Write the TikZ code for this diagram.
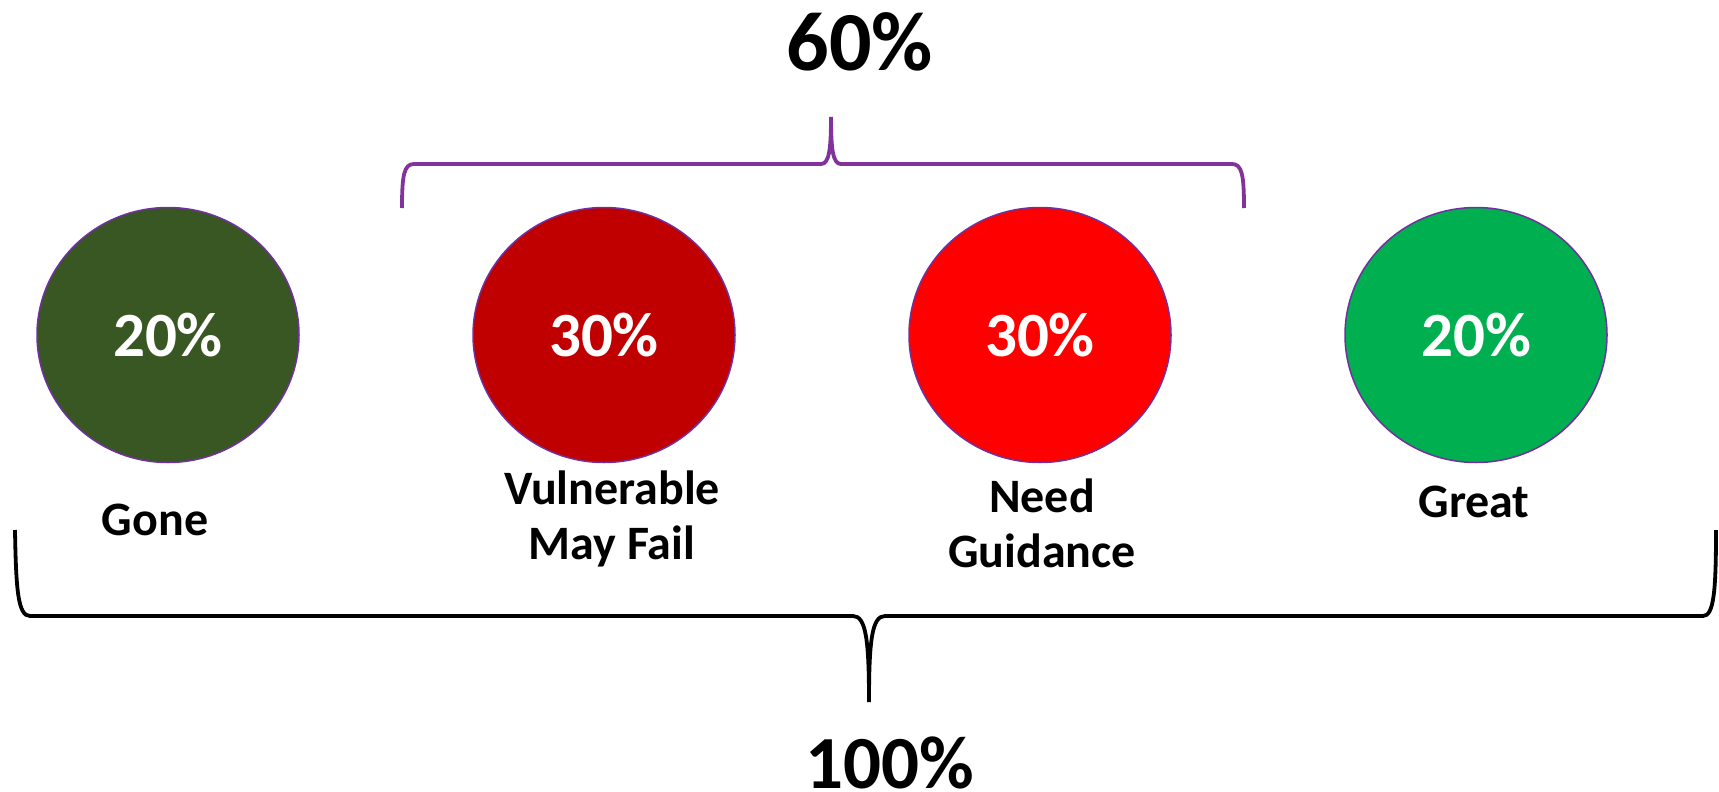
\documentclass[tikz,border=0pt]{standalone}
\usepackage{fontspec}
\setmainfont{Carlito}
\usetikzlibrary{shapes.geometric}
\definecolor{gonec}{RGB}{56,87,35}
\definecolor{vulnc}{RGB}{192,0,0}
\definecolor{needc}{RGB}{255,0,0}
\definecolor{greatc}{RGB}{0,176,80}
\definecolor{rimc}{RGB}{112,48,160}
\definecolor{bracec}{RGB}{130,50,155}
\tikzset{
  blob/.style={ellipse, draw=rimc, line width=1.5pt, minimum width=262pt, minimum height=255pt, inner sep=0pt, text=white, font=\fontsize{63}{70}\selectfont\bfseries},
  lbl/.style={align=center, font=\fontsize{48}{55}\selectfont\bfseries, inner sep=0pt},
  big/.style={font=\fontsize{84}{90}\selectfont\bfseries, inner sep=0pt},
  bigb/.style={font=\fontsize{75}{80}\selectfont\bfseries, inner sep=0pt},
  bracket/.style={line width=3.8pt},
}
\begin{document}
\begin{tikzpicture}[x=1pt,y=-1pt]
\useasboundingbox (0,0) rectangle (1719,792);
\node[blob, fill=gonec] (gone) at (168,335) {20\%};
\node[blob, fill=vulnc] (vuln) at (604,335) {30\%};
\node[blob, fill=needc] (need) at (1040,335) {30\%};
\node[blob, fill=greatc] (great) at (1476,335) {20\%};
\node[lbl, anchor=base] (gonel) at (155,535) {Gone};
\node[lbl] (vulnl) at (612,519) {Vulnerable\\May Fail};
\node[lbl] (needl) at (1042,523) {Need\\Guidance};
\node[lbl, anchor=base] (greatl) at (1474,517) {Great};
\node[big] (sixty) at (860,42) {60\%};
\node[bigb, anchor=base] (hundred) at (890,788) {100\%};
\draw[bracec, bracket] (402,208) .. controls (402,175) and (404,164) .. (414,164) -- (821,164) .. controls (829,164) and (831,150) .. (831,117) .. controls (831,150) and (833,164) .. (841,164) -- (1232,164) .. controls (1242,164) and (1244,175) .. (1244,208);
\draw[black, bracket] (15,530) .. controls (16,590) and (18,616) .. (30,616) -- (853,616) .. controls (866,616) and (869,640) .. (869,702) .. controls (869,640) and (872,616) .. (885,616) -- (1703,616) .. controls (1714,616) and (1716,590) .. (1716,530);
\end{tikzpicture}
\end{document}
